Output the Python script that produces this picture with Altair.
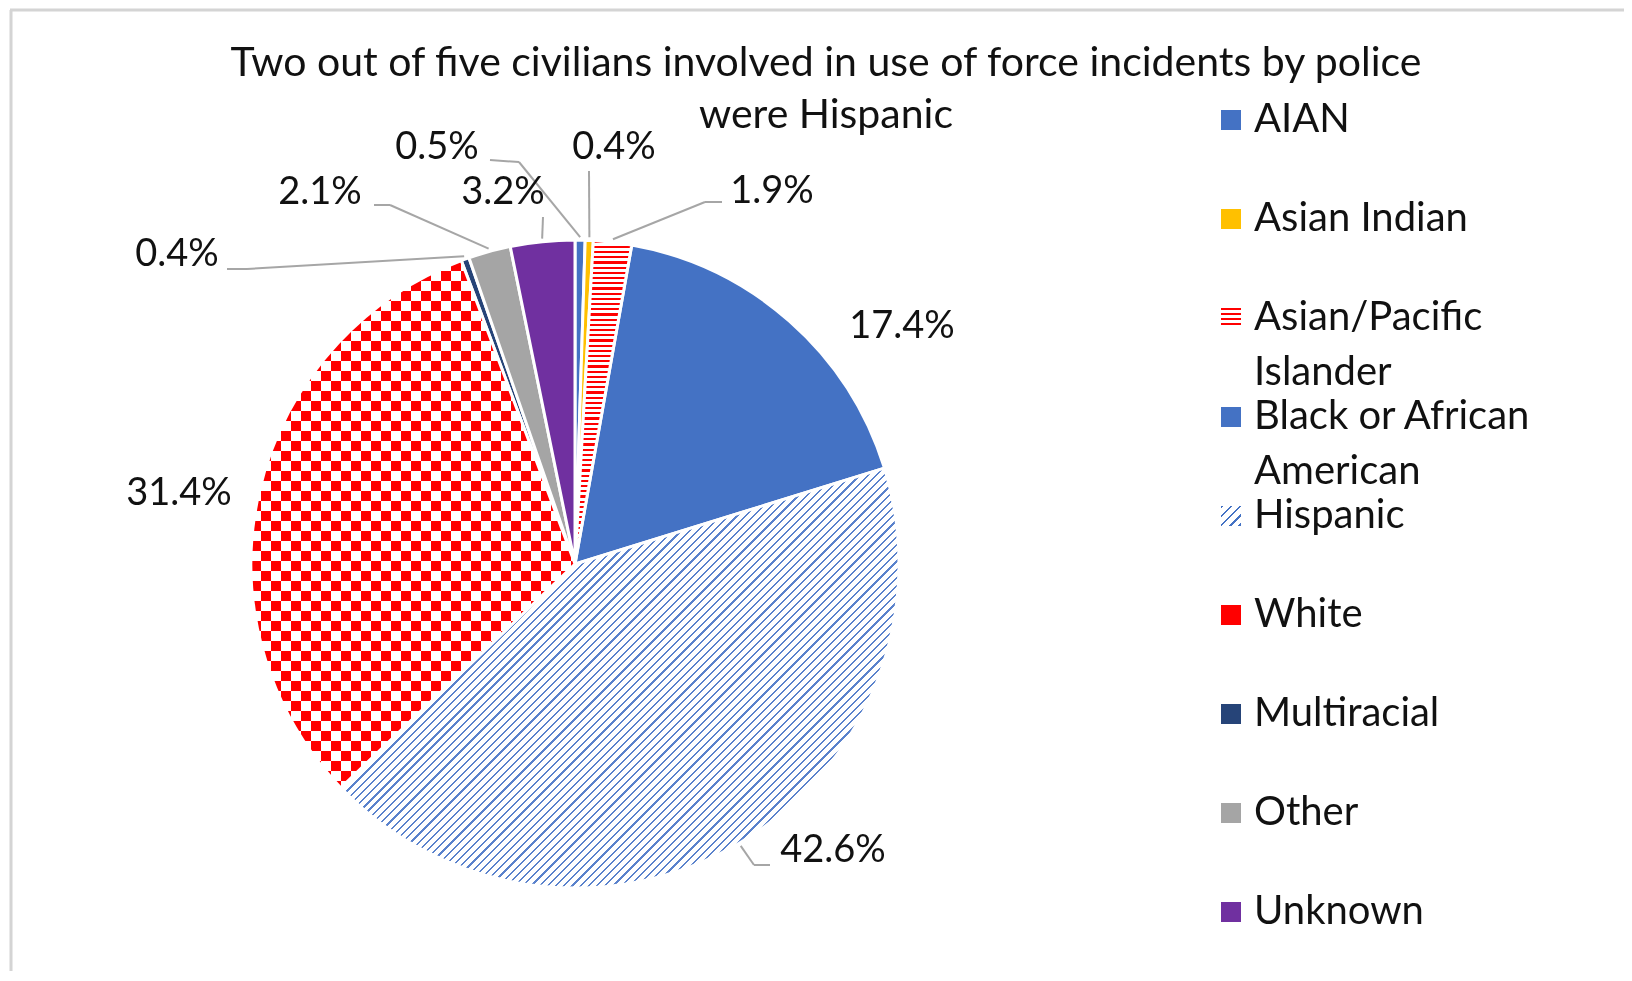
import math
import altair as alt
import pandas as pd

# ---------------- data ----------------
categories = ["AIAN", "Asian Indian", "Asian/Pacific Islander", "Black or African American",
              "Hispanic", "White", "Multiracial", "Other", "Unknown"]
percentages = [0.5, 0.4, 1.9, 17.4, 42.6, 31.4, 0.4, 2.1, 3.2]
legend_labels = ["AIAN", "Asian Indian", "Asian/Pacific\nIslander", "Black or African\nAmerican",
                 "Hispanic", "White", "Multiracial", "Other", "Unknown"]
title_lines = ["Two out of five civilians involved in use of force incidents by police",
               "were Hispanic"]

# ---------------- style / layout ----------------
FONT = "Lato"
FS = 38
LEG_FS = 40
TITLE_FS = 41
W, H = 1616, 963
CX, CY, R = 565, 554, 324
TOTAL = sum(percentages)

base_colors = ["#4472C4", "#FFC000", "#FF0000", "#4472C4", "#4472C4", "#FF0000",
               "#264478", "#A5A5A5", "#7030A0"]
solid_cats = ["AIAN", "Asian Indian", "Black or African American", "Multiracial", "Other", "Unknown"]

# label centre offsets from pie centre
label_dx = [-138, 39, 197, 327, 258, -396, -398, -255, -72]
label_dy = [-416, -416, -372, -237, 287, -70, -309, -371, -371]
# leader lines: anchor near label and elbow (offsets from centre); slice end computed from data
has_leader = [1, 1, 1, 0, 1, 0, 1, 1, 1]
lead_ax = [-85, 14, 147, 0, 195, 0, -348, -201, -32]
lead_ay = [-404, -393, -362, 0, 301, 0, -295, -359, -347]
lead_bx = [-56, 14, 130, 0, 179, 0, -328, -185, -32]
lead_by = [-402, -393, -362, 0, 301, 0, -295, -359, -347]

LEG_SYM_X, LEG_TXT_X, LEG_Y0, LEG_STEP, LEG_LINE = 1221, 1244, 110, 99, 55


def slice_bbox(i):
    before = sum(percentages[:i])
    a0 = before / TOTAL * 2 * math.pi
    a1 = (before + percentages[i]) / TOTAL * 2 * math.pi
    angs = [a0, a1] + [k * math.pi / 2 for k in range(5) if a0 < k * math.pi / 2 < a1]
    xs = [0] + [R * math.sin(a) for a in angs]
    ys = [0] + [-R * math.cos(a) for a in angs]
    return max(xs) - min(xs), max(ys) - min(ys)


def stripe_stops(c1, c2, period_norm, frac):
    stops = []
    t = 0.0
    while t < 1.0:
        a = round(t, 5)
        b = round(min(t + frac * period_norm, 1.0), 5)
        c = round(min(t + period_norm, 1.0), 5)
        stops += [{"offset": a, "color": c1}, {"offset": b, "color": c1},
                  {"offset": b, "color": c2}, {"offset": c, "color": c2}]
        t += period_norm
    return stops


def lin_grad(stops, x2, y2):
    return {"gradient": "linear", "x1": 0, "y1": 0, "x2": x2, "y2": y2, "stops": stops}


def diag_grad(c1, c2, w, h, period_px, frac):
    r = h / w
    k = (1 + r) / (1 + r * r)
    length = (w + h) / math.sqrt(2)
    return lin_grad(stripe_stops(c1, c2, period_px / length, frac), k, k * r)


# pattern fills
iAPI = categories.index("Asian/Pacific Islander")
iHIS = categories.index("Hispanic")
iWHI = categories.index("White")
w_api, h_api = slice_bbox(iAPI)
w_his, h_his = slice_bbox(iHIS)
w_whi, h_whi = slice_bbox(iWHI)

api_fill = lin_grad(stripe_stops("#FF0000", "#FFFFFF", 5.2 / h_api, 0.45), 0, 1)
his_fill = diag_grad("#5A82CC", "#FFFFFF", w_his, h_his, 5.8, 0.27)
checker_h = lin_grad(stripe_stops("#000000", "#FFFFFF", 20 / h_whi, 0.5), 0, 1)
checker_v = lin_grad(stripe_stops("#000000", "#FFFFFF", 20 / w_whi, 0.5), 1, 0)

api_leg = lin_grad(stripe_stops("#FF0000", "#FFFFFF", 0.25, 0.45), 0, 1)
his_leg = diag_grad("#4472C4", "#FFFFFF", 20, 20, 6.5, 0.28)

# ---------------- tables ----------------
df = pd.DataFrame({
    "category": categories,
    "value": percentages,
    "order": list(range(len(categories))),
    "label": [f"{v:.1f}%" for v in percentages],
    "ldx": label_dx, "ldy": label_dy,
    "lead": has_leader,
    "adx": lead_ax, "ady": lead_ay, "bdx": lead_bx, "bdy": lead_by,
})

leg_rows = []
for i, lab in enumerate(legend_labels):
    for j, line in enumerate(lab.split("\n")):
        leg_rows.append({"text": line, "idx": i, "line": j})
leg_df = pd.DataFrame(leg_rows)

title_df = pd.DataFrame({"text": title_lines, "line": list(range(len(title_lines)))})

base = alt.Chart(df).transform_window(
    cum="sum(value)", sort=[alt.SortField("order")], frame=[None, 0]
).transform_calculate(
    start="datum.cum - datum.value",
    end="datum.cum",
    ang=f"(datum.cum - datum.value / 2) / {TOTAL} * 2 * PI",
).transform_calculate(
    lx=f"{CX} + datum.ldx", ly=f"{CY} + datum.ldy",
    ax=f"{CX} + datum.adx", ay=f"{CY} + datum.ady",
    bx=f"{CX} + datum.bdx", by=f"{CY} + datum.bdy",
    sx=f"{CX} + {R + 3} * sin(datum.ang)", sy=f"{CY} - {R + 3} * cos(datum.ang)",
    ly_leg=f"{LEG_Y0} + datum.order * {LEG_STEP}",
)

theta = alt.Theta("start:Q", scale=alt.Scale(domain=[0, TOTAL], range=[0, 2 * math.pi]), stack=None)
theta2 = alt.Theta2("end:Q")
fill_scale = alt.Scale(domain=categories, range=base_colors)
pos = dict(x=alt.value(CX), y=alt.value(CY))


def one(cat):
    return base.transform_filter(alt.datum.category == cat)


solid = base.transform_filter(
    alt.FieldOneOfPredicate(field="category", oneOf=solid_cats)
).mark_arc(outerRadius=R, stroke="white", strokeWidth=3).encode(
    theta=theta, theta2=theta2, fill=alt.Fill("category:N", scale=fill_scale, legend=None), **pos)

api = one("Asian/Pacific Islander").mark_arc(outerRadius=R, fill=api_fill, stroke="white", strokeWidth=3).encode(
    theta=theta, theta2=theta2, **pos)
his = one("Hispanic").mark_arc(outerRadius=R, fill=his_fill, stroke="white", strokeWidth=3).encode(
    theta=theta, theta2=theta2, **pos)
whiA = one("White").mark_arc(outerRadius=R, fill=checker_h).encode(theta=theta, theta2=theta2, **pos)
whiB = one("White").mark_arc(outerRadius=R, fill=checker_v, blend="difference").encode(
    theta=theta, theta2=theta2, **pos)
whiC = one("White").mark_arc(outerRadius=R, fill="#FF0000", blend="screen", stroke="white", strokeWidth=3).encode(
    theta=theta, theta2=theta2, **pos)

lead = base.transform_filter("datum.lead == 1")
rule1 = lead.mark_rule(color="#A6A6A6", strokeWidth=2).encode(
    x=alt.X("ax:Q", scale=None), y=alt.Y("ay:Q", scale=None), x2="bx:Q", y2="by:Q")
rule2 = lead.mark_rule(color="#A6A6A6", strokeWidth=2).encode(
    x=alt.X("bx:Q", scale=None), y=alt.Y("by:Q", scale=None), x2="sx:Q", y2="sy:Q")

labels = base.mark_text(font=FONT, fontSize=FS, color="#111111", align="center", baseline="middle").encode(
    x=alt.X("lx:Q", scale=None), y=alt.Y("ly:Q", scale=None), text="label:N")

# legend
leg_solid = base.transform_filter(
    alt.FieldOneOfPredicate(field="category", oneOf=solid_cats + ["White"])
).mark_square(size=400, opacity=1).encode(
    x=alt.value(LEG_SYM_X), y=alt.Y("ly_leg:Q", scale=None),
    fill=alt.Fill("category:N", scale=fill_scale, legend=None))
leg_api = one("Asian/Pacific Islander").mark_square(size=400, opacity=1, fill=api_leg).encode(
    x=alt.value(LEG_SYM_X), y=alt.Y("ly_leg:Q", scale=None))
leg_his = one("Hispanic").mark_square(size=400, opacity=1, fill=his_leg).encode(
    x=alt.value(LEG_SYM_X), y=alt.Y("ly_leg:Q", scale=None))

leg_text = alt.Chart(leg_df).transform_calculate(
    ty=f"{LEG_Y0} + datum.idx * {LEG_STEP} + datum.line * {LEG_LINE}"
).mark_text(font=FONT, fontSize=LEG_FS, color="#111111", align="left", baseline="middle").encode(
    x=alt.value(LEG_TXT_X), y=alt.Y("ty:Q", scale=None), text="text:N")

title = alt.Chart(title_df).transform_calculate(
    ty="54 + datum.line * 52"
).mark_text(font=FONT, fontSize=TITLE_FS, color="#111111", align="center", baseline="middle").encode(
    x=alt.value(816), y=alt.Y("ty:Q", scale=None), text="text:N")

frame_df = pd.DataFrame({"k": [0]})
border_left = alt.Chart(frame_df).mark_rule(color="#D4D4D4", strokeWidth=3).encode(
    x=alt.value(1), y=alt.value(0), y2=alt.value(H))
border_top = alt.Chart(frame_df).mark_rule(color="#D4D4D4", strokeWidth=3).encode(
    x=alt.value(0), x2=alt.value(W), y=alt.value(0))

chart = alt.layer(
    solid, api, his, whiA, whiB, whiC, rule1, rule2, labels,
    leg_solid, leg_api, leg_his, leg_text, title, border_left, border_top,
).properties(
    width=W, height=H, padding=0, background="white",
    autosize=alt.AutoSizeParams(type="fit", contains="padding"),
).configure_view(stroke=None)

chart.save("out.html", embed_options={"renderer": "svg", "actions": False})
